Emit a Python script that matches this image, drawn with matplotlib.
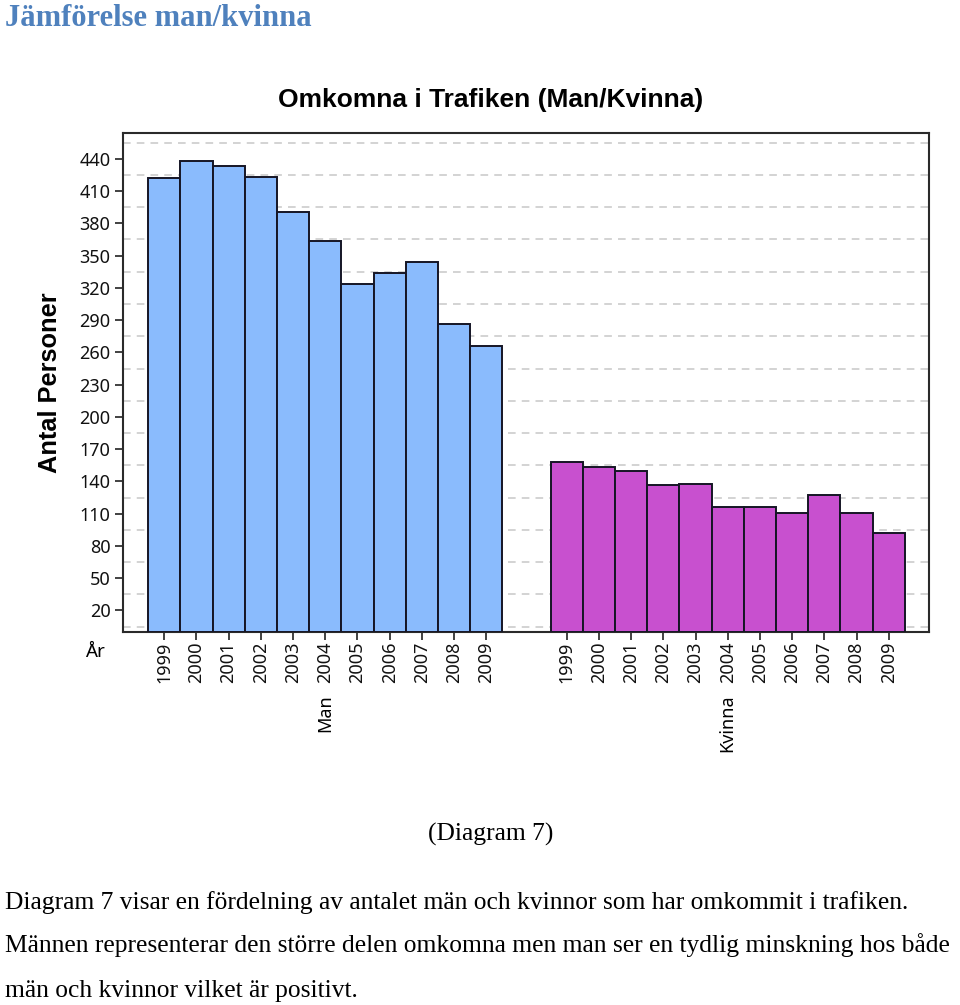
import matplotlib.pyplot as plt
import numpy as np
from matplotlib.transforms import blended_transform_factory

# data
years = ["1999", "2000", "2001", "2002", "2003", "2004",
         "2005", "2006", "2007", "2008", "2009"]
man = [422, 438, 433, 423, 391, 364, 324, 334, 344, 286, 266]
kvinna = [158, 153, 150, 137, 138, 116, 116, 111, 127, 111, 92]
groups = ["Man", "Kvinna"]
y_ticks = list(range(20, 441, 30))

W, H = 960, 1005
fig = plt.figure(figsize=(W / 100, H / 100), dpi=100)

def fx(px):
    return px / W

def fy(py):
    return 1 - py / H

TICKFONT = "Noto Sans"

# axes box in pixels: left 123, right 929, top 133, bottom 632
ax = fig.add_axes([fx(123), fy(632), fx(929 - 123), fy(133) - fy(632)])

x_man = np.arange(len(years))
x_kv = x_man + len(years) + 1.5

ax.bar(x_man, man, width=1.0, color="#8abbfd", edgecolor="#151525",
       linewidth=1.4, zorder=3)
ax.bar(x_kv, kvinna, width=1.0, color="#c850cf", edgecolor="#151525",
       linewidth=1.4, zorder=3)

ax.set_xlim(-1.28, x_kv[-1] + 0.5 + 0.75)
ax.set_ylim(0, 464)

# y axis
ax.set_yticks(y_ticks)
ax.set_yticklabels([str(v) for v in y_ticks], fontsize=13, family=TICKFONT)
ax.set_yticks(np.arange(5, 460, 15), minor=True)
ax.yaxis.grid(True, which="minor", color="#c8c8c8", linestyle=(0, (5, 4)),
              linewidth=1.1, zorder=0)
ax.tick_params(axis="y", which="minor", length=0)
ax.tick_params(axis="y", which="major", length=6, width=1.3, color="#333333",
               pad=3, labelcolor="#111111")

# x axis
ax.set_xticks(np.concatenate([x_man, x_kv]))
ax.set_xticklabels(years + years, rotation=90, fontsize=13,
                   family=TICKFONT, va="top")
ax.tick_params(axis="x", length=6, width=1.3, color="#333333", pad=1,
               labelcolor="#111111")

for s in ax.spines.values():
    s.set_linewidth(1.5)
    s.set_color("#2a2a2a")

# group labels under the year labels
tr = blended_transform_factory(ax.transData, ax.transAxes)
ax.text(x_man[5], -0.125, groups[0], transform=tr, rotation=90,
        ha="center", va="top", fontsize=13, family=TICKFONT)
ax.text(x_kv[5], -0.125, groups[1], transform=tr, rotation=90,
        ha="center", va="top", fontsize=13, family=TICKFONT)

fig.text(fx(95), fy(652), "År", ha="center", va="center", fontsize=13.5,
         family=TICKFONT)
fig.text(fx(50), fy(383), "Antal Personer", rotation=90, ha="center",
         va="center", fontsize=18.3, fontweight="bold", family="Liberation Sans")
fig.text(fx(491), fy(100), "Omkomna i Trafiken (Man/Kvinna)", ha="center",
         va="center", fontsize=19, fontweight="bold", family="Liberation Sans")

# page text around the chart
fig.text(fx(5), fy(18), "Jämförelse man/kvinna", ha="left", va="center",
         fontsize=22, fontweight="bold", family="Liberation Serif",
         color="#4f81bd")
fig.text(fx(491), fy(834), "(Diagram 7)", ha="center", va="center",
         fontsize=18.4, family="Liberation Serif")
body = ["Diagram 7 visar en fördelning av antalet män och kvinnor som har omkommit i trafiken.",
        "Männen representerar den större delen omkomna men man ser en tydlig minskning hos både",
        "män och kvinnor vilket är positivt."]
for line, py in zip(body, [903, 945, 991]):
    fig.text(fx(5), fy(py), line, ha="left", va="center", fontsize=18.4,
             family="Liberation Serif")

fig.savefig("out.png", dpi=100)
